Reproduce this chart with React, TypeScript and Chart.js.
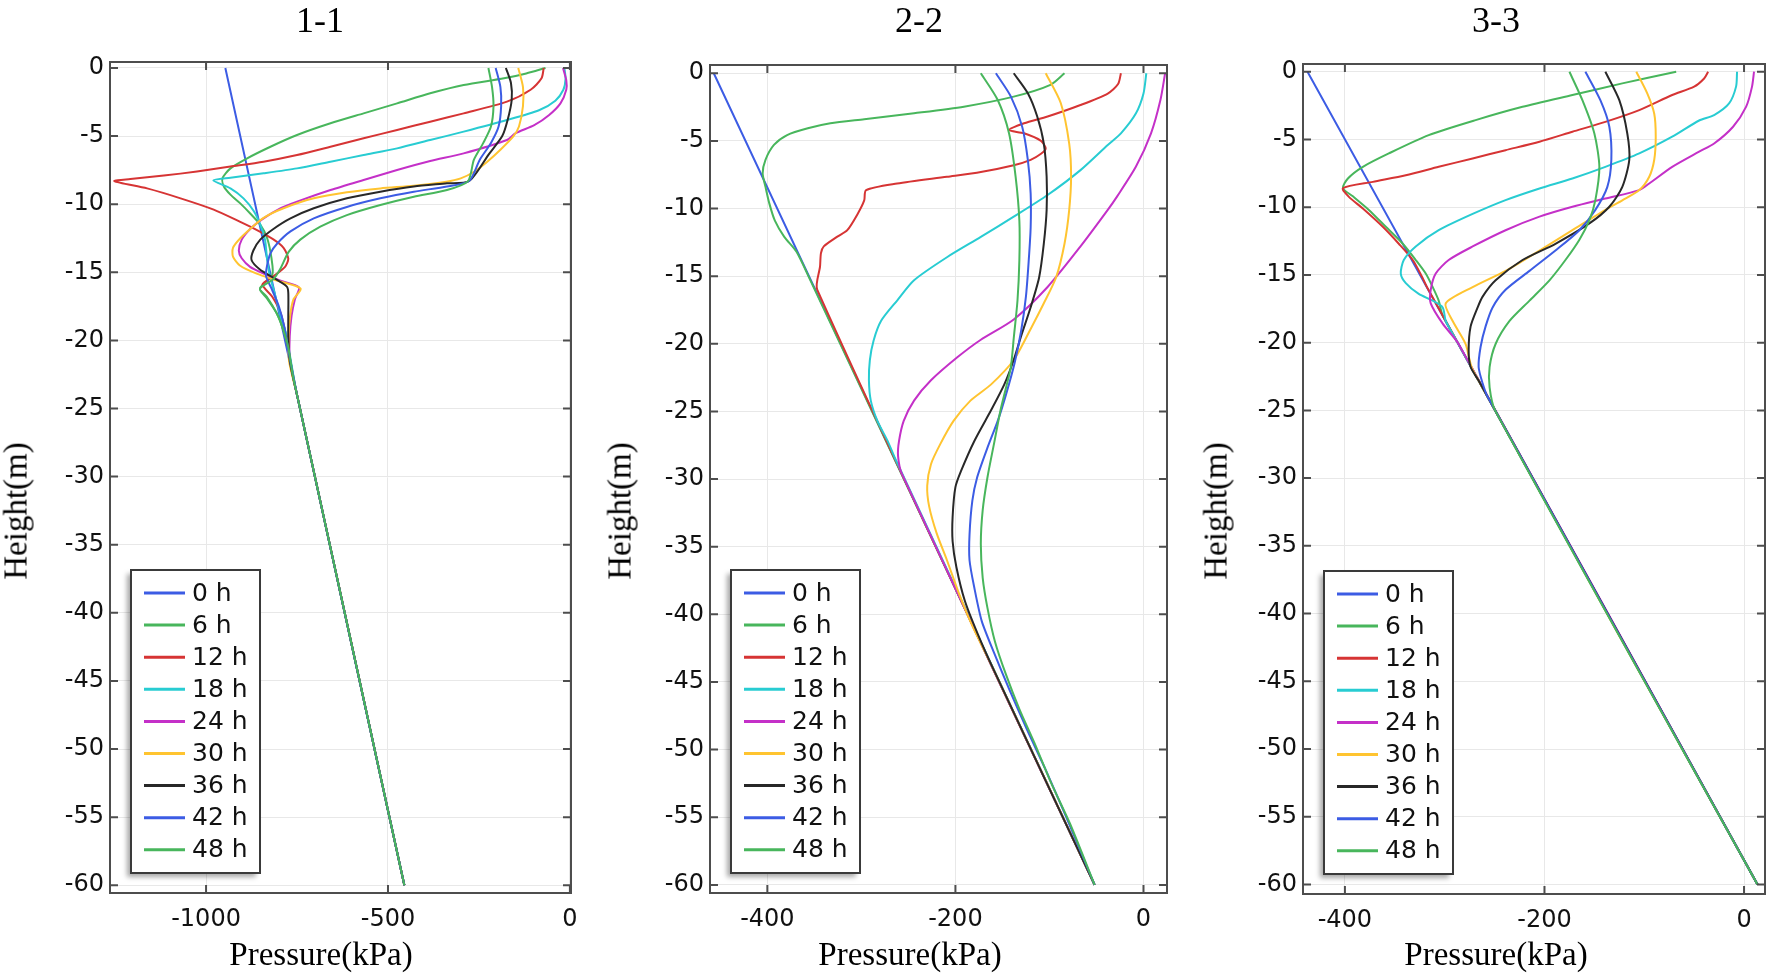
import React, { useEffect, useRef } from "react";
import { Chart, registerables } from "chart.js";

Chart.register(...registerables);

// Each point is [pressure (kPa), height (m)]
type Pt = [number, number];

const hourLabels = ["0 h", "6 h", "12 h", "18 h", "24 h", "30 h", "36 h", "42 h", "48 h"];
const hourColors = [
  "rgb(60,92,228)",
  "rgb(72,182,92)",
  "rgb(214,52,52)",
  "rgb(40,204,210)",
  "rgb(196,48,200)",
  "rgb(255,196,48)",
  "rgb(40,40,40)",
  "rgb(60,92,228)",
  "rgb(72,182,92)",
];

const heightTicks = [0, -5, -10, -15, -20, -25, -30, -35, -40, -45, -50, -55, -60];
const pressureTicks11 = [-1000, -500, 0];
const pressureTicks22 = [-400, -200, 0];
const pressureTicks33 = [-400, -200, 0];

// ---- Section 1-1 ----
const s11_h0: Pt[] = [[-947, 0], [-455, -60]];
const s11_h6: Pt[] = [
  [-67, 0], [-120, -0.4], [-181, -0.76], [-292, -1.25], [-384, -1.86], [-475, -2.6], [-567, -3.33],
  [-658, -4.06], [-750, -4.92], [-823, -5.78], [-887, -6.63], [-933, -7.37], [-955, -8.1], [-951, -8.7],
  [-933, -9.3], [-906, -9.94], [-878, -10.7], [-851, -11.5], [-832, -12.5], [-820, -14.0], [-818, -15.2],
  [-852, -16.2], [-833, -16.9], [-806, -18.0], [-788, -19.2], [-775, -20.5], [-762, -22.5], [-750, -24],
  [-455, -60],
];
const s11_h12: Pt[] = [
  [-72, 0], [-78, -0.76], [-108, -1.6], [-173, -2.47], [-292, -3.33], [-384, -3.94], [-475, -4.55],
  [-567, -5.16], [-658, -5.78], [-750, -6.39], [-842, -6.88], [-933, -7.24], [-1025, -7.6], [-1116, -7.9],
  [-1208, -8.15], [-1252, -8.3], [-1162, -8.84], [-1070, -9.57], [-979, -10.4], [-906, -11.3], [-860, -11.9],
  [-814, -12.6], [-787, -13.2], [-774, -14.0], [-783, -14.6], [-815, -15.3], [-845, -15.9], [-818, -16.8],
  [-795, -18.0], [-780, -19.7], [-768, -21.5], [-750, -24], [-455, -60],
];
const s11_h18: Pt[] = [
  [-15, 0], [-12, -0.8], [-18, -1.6], [-40, -2.4], [-85, -3.1], [-173, -3.82], [-292, -4.67], [-384, -5.29],
  [-475, -5.9], [-567, -6.39], [-658, -6.88], [-750, -7.37], [-842, -7.73], [-933, -8.05], [-980, -8.25],
  [-933, -8.84], [-897, -9.57], [-869, -10.5], [-851, -11.5], [-838, -12.6], [-833, -13.85], [-826, -15.1],
  [-812, -16.5], [-795, -18.2], [-778, -19.7], [-767, -21.5], [-750, -24], [-455, -60],
];
const s11_h24: Pt[] = [
  [-19, 0], [-10, -0.9], [-10, -1.6], [-26, -2.6], [-57, -3.45], [-98, -4.2], [-150, -4.8], [-173, -5.29],
  [-292, -6.27], [-384, -6.83], [-475, -7.49], [-567, -8.22], [-658, -8.96], [-750, -9.81], [-796, -10.3],
  [-842, -11.04], [-878, -11.8], [-902, -12.6], [-910, -13.4], [-902, -13.97], [-879, -14.6], [-842, -15.1],
  [-797, -15.6], [-745, -16.1], [-756, -17.0], [-765, -18.2], [-770, -19.7], [-770, -21.5], [-750, -24],
  [-455, -60],
];
const s11_h30: Pt[] = [
  [-142, 0], [-129, -1.4], [-129, -2.8], [-140, -4.3], [-155, -5.0], [-191, -6.0], [-228, -6.9], [-262, -7.6],
  [-300, -8.1], [-340, -8.35], [-429, -8.64], [-521, -8.84], [-613, -9.13], [-704, -9.57], [-787, -10.3],
  [-842, -11.0], [-878, -11.8], [-906, -12.5], [-926, -13.2], [-926, -13.85], [-907, -14.5], [-861, -15.1],
  [-806, -15.6], [-740, -16.2], [-760, -17.0], [-769, -18.2], [-773, -19.7], [-772, -21.5], [-750, -24],
  [-455, -60],
];
const s11_h36: Pt[] = [
  [-176, 0], [-162, -1.1], [-160, -2.35], [-171, -3.8], [-186, -5.0], [-222, -6.3], [-277, -8.3], [-338, -8.47],
  [-429, -8.7], [-521, -9.08], [-613, -9.57], [-704, -10.3], [-768, -11.04], [-814, -11.8], [-851, -12.6],
  [-870, -13.4], [-875, -14.1], [-852, -14.8], [-815, -15.4], [-778, -16.05], [-774, -16.5], [-774, -18.2],
  [-774, -19.7], [-770, -21.5], [-750, -24], [-455, -60],
];
const s11_h42: Pt[] = [
  [-204, 0], [-191, -1.4], [-189, -2.8], [-196, -4.3], [-217, -5.5], [-248, -6.75], [-277, -8.3], [-338, -8.7],
  [-429, -9.08], [-521, -9.57], [-613, -10.2], [-704, -11.04], [-768, -12.0], [-805, -12.9], [-823, -13.6],
  [-833, -14.6], [-835, -15.3], [-820, -16.2], [-800, -17.5], [-785, -19.0], [-772, -21.0], [-750, -24],
  [-455, -60],
];
const s11_h48: Pt[] = [
  [-224, 0], [-214, -1.4], [-210, -2.8], [-217, -4.3], [-238, -5.5], [-264, -6.75], [-280, -8.3], [-338, -8.96],
  [-429, -9.45], [-521, -10.06], [-613, -10.8], [-686, -11.65], [-741, -12.6], [-773, -13.5], [-797, -14.8],
  [-815, -15.5], [-852, -16.2], [-833, -16.8], [-806, -18.0], [-788, -19.2], [-774, -20.5], [-762, -22.5],
  [-750, -24], [-455, -60],
];

// ---- Section 2-2 ----
const s22_h0: Pt[] = [[-457, 0], [-52, -60]];
const s22_h6: Pt[] = [
  [-84, 0], [-99, -0.86], [-138, -1.73], [-191, -2.47], [-244, -2.96], [-297, -3.4], [-333, -3.7], [-357, -4.07],
  [-379, -4.57], [-393, -5.3], [-402, -6.4], [-405, -7.4], [-402, -8.4], [-398, -9.6], [-392, -10.9],
  [-382, -12.1], [-369, -13.2], [-355, -15.2], [-52, -60],
];
const s22_h12: Pt[] = [
  [-24, 0], [-27, -0.8], [-38, -1.5], [-67, -2.35], [-102, -3.2], [-127, -3.7], [-143, -4.2], [-127, -4.44],
  [-109, -5.0], [-104, -5.56], [-109, -5.95], [-120, -6.4], [-138, -6.8], [-173, -7.3], [-209, -7.65],
  [-262, -8.15], [-295, -8.64], [-297, -9.4], [-304, -10.4], [-315, -11.6], [-326, -12.1], [-340, -12.8],
  [-343, -13.3], [-344, -14.3], [-347, -16.0], [-52, -60],
];
const s22_h18: Pt[] = [
  [3, 0], [0, -1.5], [-8, -2.96], [-24, -4.44], [-38, -5.3], [-67, -7.16], [-102, -9.0], [-138, -10.6],
  [-173, -12.1], [-209, -13.6], [-244, -15.3], [-262, -16.8], [-279, -18.3], [-287, -19.75], [-291, -21.2],
  [-292, -22.7], [-290, -24.2], [-283, -25.7], [-272, -27.2], [-264, -28.5], [-52, -60],
];
const s22_h24: Pt[] = [
  [23, 0], [18, -1.98], [8, -4.44], [-8, -6.9], [-28, -9.1], [-38, -10.1], [-67, -12.8], [-102, -15.8],
  [-138, -18.2], [-173, -19.7], [-198, -21.0], [-226, -22.7], [-244, -24.2], [-255, -25.7], [-260, -27.2],
  [-261, -28.3], [-257, -29.6], [-52, -60],
];
const s22_h30: Pt[] = [
  [-104, 0], [-88, -2.2], [-79, -5.2], [-77, -7.65], [-79, -10.1], [-84, -12.6], [-93, -15.1], [-106, -17.0],
  [-120, -18.9], [-138, -21.2], [-162, -23.0], [-184, -24.2], [-202, -25.7], [-216, -27.4], [-226, -28.9],
  [-230, -30.5], [-228, -32], [-220, -34], [-209, -36], [-196, -38.5], [-181, -41], [-160, -44], [-52, -60],
];
const s22_h36: Pt[] = [
  [-138, 0], [-123, -1.48], [-113, -3.2], [-106, -5.2], [-103, -7.65], [-103, -10.1], [-106, -12.6],
  [-111, -15.1], [-120, -17.3], [-130, -19.4], [-138, -21.2], [-148, -23.0], [-162, -24.9], [-180, -27.2],
  [-194, -29.4], [-200, -30.6], [-203, -32.8], [-203, -34.6], [-199, -36.5], [-190, -39], [-176, -41.5],
  [-160, -44], [-52, -60],
];
const s22_h42: Pt[] = [
  [-157, 0], [-141, -1.73], [-129, -3.95], [-123, -6.4], [-120, -8.9], [-120, -11.4], [-122, -13.8],
  [-125, -16.5], [-130, -19.0], [-137, -21.4], [-146, -23.7], [-155, -25.7], [-166, -27.7], [-177, -29.9],
  [-182, -31.6], [-185, -34.1], [-185, -36.0], [-180, -38.0], [-172, -40.5], [-158, -43], [-143, -45.5],
  [-124, -48.5], [-104, -51.5], [-82, -55], [-52, -60],
];
const s22_h48: Pt[] = [
  [-173, 0], [-155, -1.98], [-143, -4.44], [-136, -7.65], [-132, -10.9], [-132, -13.8], [-134, -16.8],
  [-138, -19.6], [-141, -21.7], [-146, -23.2], [-152, -24.9], [-159, -27.4], [-166, -29.9], [-171, -32.3],
  [-173, -34.8], [-171, -37.3], [-166, -39.5], [-158, -42], [-146, -44.5], [-132, -47], [-116, -49.5],
  [-98, -52.5], [-78, -55.5], [-52, -60],
];

// ---- Section 3-3 ----
const s33_h0: Pt[] = [[-437.5, 0], [13.5, -60]];
const s33_h6: Pt[] = [
  [-68, 0], [-122, -0.86], [-172, -1.72], [-222, -2.59], [-269, -3.57], [-316, -4.68], [-356, -6.03],
  [-382, -7.02], [-397, -7.88], [-402, -8.6], [-392, -9.2], [-376, -10.2], [-359, -11.45], [-342, -12.7],
  [-329, -13.9], [-319, -14.9], [-312, -15.9], [-306, -16.9], [-302, -18.0], [13.5, -60],
];
const s33_h12: Pt[] = [
  [-36, 0], [-40, -0.5], [-50, -1.1], [-72, -1.72], [-105, -2.83], [-139, -3.7], [-172, -4.43], [-205, -5.17],
  [-239, -5.79], [-272, -6.4], [-306, -7.02], [-339, -7.64], [-372, -8.13], [-402, -8.6], [-396, -9.24],
  [-382, -10.1], [-362, -11.45], [-346, -12.7], [-332, -13.9], [-323, -15.1], [-317, -16.0], [13.5, -60],
];
const s33_h18: Pt[] = [
  [-7, 0], [-8, -1.1], [-15, -2.34], [-30, -3.2], [-45, -3.6], [-72, -4.8], [-105, -6.03], [-139, -7.02],
  [-172, -7.88], [-205, -8.62], [-239, -9.48], [-272, -10.5], [-306, -11.7], [-329, -12.9], [-341, -13.9],
  [-344, -14.9], [-339, -15.6], [-326, -16.4], [-312, -16.9], [-302, -17.4], [-299, -18.4], [-290, -19.6],
  [13.5, -60],
];
const s33_h24: Pt[] = [
  [10, 0], [8, -1.1], [2, -2.6], [-11, -4.06], [-30, -5.3], [-45, -5.9], [-72, -7.02], [-95, -8.25],
  [-105, -8.74], [-139, -9.36], [-172, -9.97], [-205, -10.7], [-239, -11.7], [-272, -12.9], [-296, -13.9],
  [-309, -14.9], [-314, -16.1], [-314, -17.1], [-302, -18.6], [-286, -20.1], [13.5, -60],
];
const s33_h30: Pt[] = [
  [-108, 0], [-97, -1.6], [-90, -3.1], [-88.5, -4.8], [-90, -6.5], [-95, -7.75], [-105, -8.74], [-122, -9.5],
  [-139, -10.2], [-172, -11.7], [-205, -13.2], [-239, -14.7], [-272, -15.9], [-299, -17.1], [-292, -18.4],
  [-279, -20.1], [-272, -22.0], [13.5, -60],
];
const s33_h36: Pt[] = [
  [-139, 0], [-125, -2.1], [-117, -4.56], [-115, -6.5], [-122, -8.5], [-135, -9.97], [-155, -11.2],
  [-189, -12.7], [-222, -13.9], [-249, -15.4], [-262, -16.6], [-267, -17.4], [-274, -18.8], [-276, -20.6],
  [-274, -21.8], [-266, -22.8], [13.5, -60],
];
const s33_h42: Pt[] = [
  [-159, 0], [-144, -2.1], [-135, -4.06], [-133, -6.5], [-137, -8.5], [-149, -10.2], [-165, -11.7],
  [-189, -13.2], [-215, -14.7], [-239, -16.1], [-252, -17.4], [-259, -18.8], [-264, -20.3], [-266, -21.8],
  [-262, -23.0], [-257, -24], [13.5, -60],
];
const s33_h48: Pt[] = [
  [-175, 0], [-162, -2.1], [-150, -4.56], [-145, -7.02], [-149, -9.48], [-155, -10.95], [-165, -12.4],
  [-179, -13.9], [-195, -15.4], [-215, -16.9], [-235, -18.4], [-249, -20.1], [-255, -21.8], [-255, -23.3],
  [-249.5, -25], [13.5, -60],
];

// Layout of the three panels (page pixels)
const CANVAS_W = 590;
const CANVAS_H = 978;

interface PanelSpec {
  title: string;
  offset: number;
  area: { left: number; right: number; top: number; bottom: number };
  xMin: number;
  xMax: number;
  yMin: number;
  yMax: number;
  xTicks: number[];
  series: Pt[][];
  titleCenter: number;
  labelCenter: number;
  yLabelX: number;
}

const panels: PanelSpec[] = [
  {
    title: "1-1",
    offset: 0,
    area: { left: 110, right: 571, top: 62, bottom: 893 },
    xMin: -1264, xMax: 3, yMin: -60.57, yMax: 0.44,
    xTicks: pressureTicks11,
    series: [s11_h0, s11_h6, s11_h12, s11_h18, s11_h24, s11_h30, s11_h36, s11_h42, s11_h48],
    titleCenter: 320,
    labelCenter: 321,
    yLabelX: 16,
  },
  {
    title: "2-2",
    offset: 590,
    area: { left: 120, right: 577, top: 65, bottom: 893 },
    xMin: -461, xMax: 25, yMin: -60.6, yMax: 0.61,
    xTicks: pressureTicks22,
    series: [s22_h0, s22_h6, s22_h12, s22_h18, s22_h24, s22_h30, s22_h36, s22_h42, s22_h48],
    titleCenter: 919,
    labelCenter: 910,
    yLabelX: 620,
  },
  {
    title: "3-3",
    offset: 1180,
    area: { left: 123, right: 585, top: 64, bottom: 894 },
    xMin: -442, xMax: 21, yMin: -60.7, yMax: 0.57,
    xTicks: pressureTicks33,
    series: [s33_h0, s33_h6, s33_h12, s33_h18, s33_h24, s33_h30, s33_h36, s33_h42, s33_h48],
    titleCenter: 1496,
    labelCenter: 1496,
    yLabelX: 1216,
  },
];

// Draws the axis frame, inward tick marks and the boxed legend inside the plot
const frameAndLegend = {
  id: "frameAndLegend",
  afterDatasetsDraw(chart: any) {
    const { ctx, chartArea: a } = chart;
    const xs = chart.scales.x;
    const ys = chart.scales.y;
    ctx.save();

    ctx.strokeStyle = "#4d4d4d";
    ctx.lineWidth = 2;
    ctx.strokeRect(a.left, a.top, a.right - a.left, a.bottom - a.top);

    const len = 8;
    ctx.beginPath();
    xs.ticks.forEach((t: any) => {
      const x = xs.getPixelForValue(t.value);
      ctx.moveTo(x, a.bottom);
      ctx.lineTo(x, a.bottom - len);
      ctx.moveTo(x, a.top);
      ctx.lineTo(x, a.top + len);
    });
    ys.ticks.forEach((t: any) => {
      const y = ys.getPixelForValue(t.value);
      ctx.moveTo(a.left, y);
      ctx.lineTo(a.left + len, y);
      ctx.moveTo(a.right, y);
      ctx.lineTo(a.right - len, y);
    });
    ctx.stroke();

    const bw = 129;
    const bh = 303;
    const bx = a.left + 21;
    const by = a.bottom - 20 - bh;
    ctx.shadowColor = "rgba(0,0,0,0.35)";
    ctx.shadowBlur = 5;
    ctx.shadowOffsetX = -4;
    ctx.shadowOffsetY = 4;
    ctx.fillStyle = "#ffffff";
    ctx.fillRect(bx, by, bw, bh);
    ctx.shadowColor = "rgba(0,0,0,0)";
    ctx.shadowBlur = 0;
    ctx.shadowOffsetX = 0;
    ctx.shadowOffsetY = 0;
    ctx.strokeStyle = "#3a3a3a";
    ctx.lineWidth = 2;
    ctx.strokeRect(bx, by, bw, bh);

    ctx.font = "25px 'DejaVu Sans'";
    ctx.textAlign = "left";
    ctx.textBaseline = "middle";
    chart.data.datasets.forEach((ds: any, i: number) => {
      const y = by + 23 + i * 32.1;
      ctx.strokeStyle = ds.borderColor;
      ctx.lineWidth = 3;
      ctx.beginPath();
      ctx.moveTo(bx + 13, y);
      ctx.lineTo(bx + 54, y);
      ctx.stroke();
      ctx.fillStyle = "#111111";
      ctx.fillText(ds.label, bx + 61, y + 1);
    });

    ctx.restore();
  },
};

function Panel({ spec }: { spec: PanelSpec }) {
  const ref = useRef<HTMLCanvasElement>(null);

  useEffect(() => {
    const canvas = ref.current;
    if (!canvas) return;
    const tickFont = { family: "'DejaVu Sans'", size: 24 };
    const chart = new Chart(canvas, {
      type: "scatter",
      data: {
        datasets: spec.series.map((pts, i) => ({
          label: hourLabels[i],
          data: pts.map(([p, h]) => ({ x: p, y: h })),
          showLine: true,
          borderColor: hourColors[i],
          backgroundColor: hourColors[i],
          borderWidth: 2,
          pointRadius: 0,
          pointHoverRadius: 0,
          tension: 0.25,
          order: spec.series.length - 1 - i,
        })),
      },
      options: {
        responsive: false,
        animation: false,
        events: [],
        layout: {
          padding: { left: 0, top: spec.area.top, right: CANVAS_W - spec.area.right, bottom: 0 },
        },
        plugins: {
          legend: { display: false },
          tooltip: { enabled: false },
          title: { display: false },
        },
        scales: {
          x: {
            type: "linear",
            min: spec.xMin,
            max: spec.xMax,
            afterFit: (s: any) => {
              s.height = CANVAS_H - spec.area.bottom;
            },
            afterBuildTicks: (s: any) => {
              s.ticks = spec.xTicks.map((value) => ({ value }));
            },
            grid: { color: "#e8e8e8", lineWidth: 1, drawTicks: false },
            border: { display: false },
            ticks: {
              padding: 12,
              font: tickFont,
              color: "#111111",
              autoSkip: false,
              maxRotation: 0,
              callback: (v: any) => String(v),
            },
          },
          y: {
            type: "linear",
            min: spec.yMin,
            max: spec.yMax,
            afterFit: (s: any) => {
              s.width = spec.area.left;
            },
            afterBuildTicks: (s: any) => {
              s.ticks = heightTicks.map((value) => ({ value }));
            },
            grid: { color: "#e8e8e8", lineWidth: 1, drawTicks: false },
            border: { display: false },
            ticks: {
              padding: 6,
              font: tickFont,
              color: "#111111",
              autoSkip: false,
              callback: (v: any) => String(v),
            },
          },
        },
      },
      plugins: [frameAndLegend],
    } as any);
    return () => chart.destroy();
  }, [spec]);

  return (
    <canvas
      ref={ref}
      width={CANVAS_W}
      height={CANVAS_H}
      style={{ position: "absolute", left: spec.offset, top: 0, width: CANVAS_W, height: CANVAS_H }}
    />
  );
}

const serif = "'Liberation Serif', 'Times New Roman', serif";

export default function App() {
  return (
    <div
      style={{
        position: "absolute",
        left: 0,
        top: 0,
        width: 1770,
        height: 978,
        background: "#ffffff",
        overflow: "hidden",
      }}
    >
      {panels.map((p) => (
        <Panel key={p.title} spec={p} />
      ))}
      {panels.map((p) => (
        <React.Fragment key={p.title + "-text"}>
          <div
            style={{
              position: "absolute",
              left: p.titleCenter,
              top: 2,
              transform: "translateX(-50%)",
              font: `36px/1 ${serif}`,
              color: "#000",
              whiteSpace: "nowrap",
            }}
          >
            {p.title}
          </div>
          <div
            style={{
              position: "absolute",
              left: p.labelCenter,
              top: 938,
              transform: "translateX(-50%)",
              font: `33px/1 ${serif}`,
              color: "#000",
              whiteSpace: "nowrap",
            }}
          >
            Pressure(kPa)
          </div>
          <div
            style={{
              position: "absolute",
              left: p.yLabelX,
              top: 511,
              transform: "translate(-50%, -50%) rotate(-90deg)",
              font: `33px/1 ${serif}`,
              color: "#000",
              whiteSpace: "nowrap",
            }}
          >
            Height(m)
          </div>
        </React.Fragment>
      ))}
    </div>
  );
}
